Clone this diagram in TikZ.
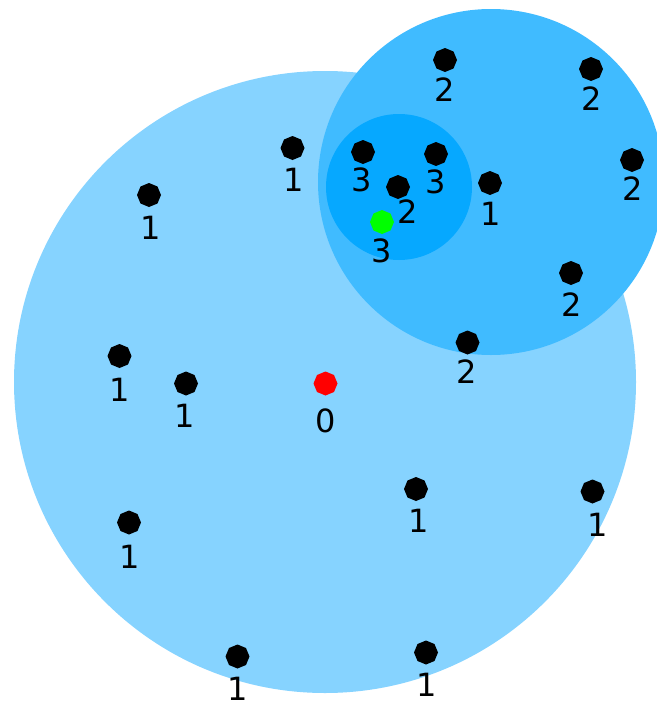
\documentclass[tikz,border=0pt]{standalone}
\usepackage{fontspec}
\setmainfont{DejaVu Sans}
\usetikzlibrary{shapes.geometric}
\definecolor{cbig}{HTML}{86D3FF}
\definecolor{cmid}{HTML}{40BBFF}
\definecolor{csmall}{HTML}{06A8FF}
\definecolor{cgreen}{HTML}{00FF00}
\definecolor{cred}{HTML}{FF0000}
\tikzset{
  dotnode/.style={regular polygon, regular polygon sides=8, shape border rotate=22.5,
    fill=#1, draw=none, minimum size=24pt, inner sep=0pt},
  dotnode/.default=black,
  lbl/.style={inner sep=0pt, font=\fontsize{32}{40}\selectfont}
}
\begin{document}
\begin{tikzpicture}[x=1pt,y=-1pt]
\useasboundingbox (0,0) rectangle (656,704);
\fill[cbig] (325,382) circle (311);
\fill[cmid] (491,182) circle (173);
\fill[csmall] (399,187) circle (73);
% dots
\node[dotnode] (d1) at (445,60) {};
\node[lbl] (l1) at (445,90) {2};
\node[dotnode] (d2) at (591,69) {};
\node[lbl] (l2) at (592,99) {2};
\node[dotnode] (d3) at (292.5,148) {};
\node[lbl] (l3) at (293.5,180) {1};
\node[dotnode] (d4) at (363,152) {};
\node[lbl] (l4) at (362,180) {3};
\node[dotnode] (d5) at (436,154) {};
\node[lbl] (l5) at (436,182) {3};
\node[dotnode] (d6) at (632,160) {};
\node[lbl] (l6) at (633,188.5) {2};
\node[dotnode] (d7) at (149,195) {};
\node[lbl] (l7) at (151,228) {1};
\node[dotnode] (d8) at (398,187) {};
\node[lbl] (l8) at (407.5,211.5) {2};
\node[dotnode] (d9) at (490,183) {};
\node[lbl] (l9) at (491,214) {1};
\node[dotnode=cgreen] (d10) at (382,222) {};
\node[lbl] (l10) at (382,251) {3};
\node[dotnode] (d11) at (571,273) {};
\node[lbl] (l11) at (572,305) {2};
\node[dotnode] (d12) at (467.5,342.5) {};
\node[lbl] (l12) at (466.5,372) {2};
\node[dotnode] (d13) at (119.5,356) {};
\node[lbl] (l13) at (119.5,390) {1};
\node[dotnode] (d14) at (186,383.5) {};
\node[lbl] (l14) at (185,415.5) {1};
\node[dotnode=cred] (d15) at (325.5,383.5) {};
\node[lbl] (l15) at (326,421) {0};
\node[dotnode] (d16) at (416,489) {};
\node[lbl] (l16) at (418.5,520.5) {1};
\node[dotnode] (d17) at (592.5,491.5) {};
\node[lbl] (l17) at (598,524.5) {1};
\node[dotnode] (d18) at (129,522.5) {};
\node[lbl] (l18) at (130,557) {1};
\node[dotnode] (d19) at (237.5,656.5) {};
\node[lbl] (l19) at (237.5,688.5) {1};
\node[dotnode] (d20) at (426,652.5) {};
\node[lbl] (l20) at (426.5,684.5) {1};
\end{tikzpicture}
\end{document}
